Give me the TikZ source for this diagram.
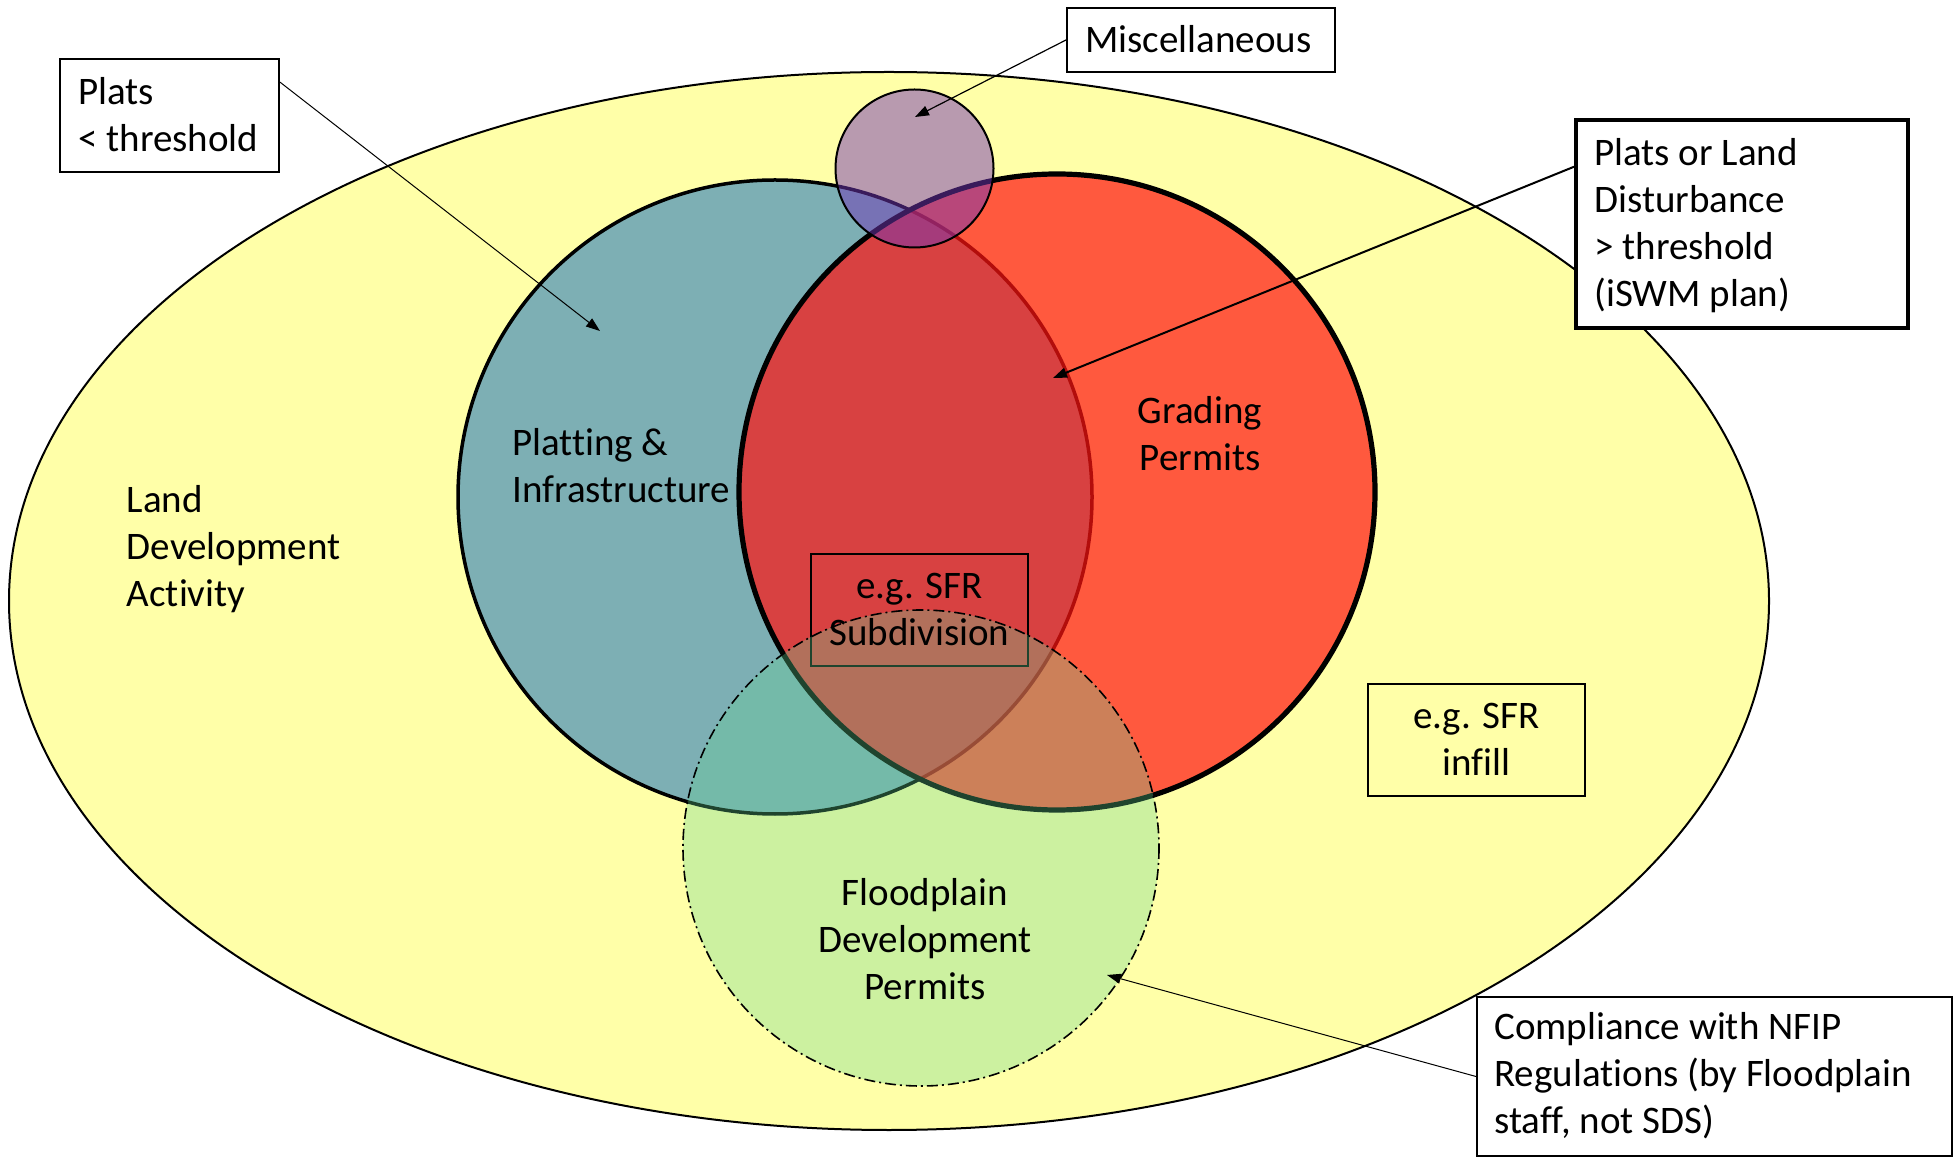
\documentclass[tikz,border=0pt]{standalone}
\usepackage{fontspec}
\setmainfont{Carlito}[Ligatures=NoCommon]
\usetikzlibrary{arrows.meta,calc}
\definecolor{ldyellow}{RGB}{255,255,168}
\definecolor{plblue}{RGB}{125,175,180}
\definecolor{grred}{RGB}{255,19,17}
\definecolor{fpgreen}{RGB}{98,212,146}
\definecolor{miscpurple}{RGB}{115,55,182}
\begin{document}
\begin{tikzpicture}[x=0.5pt,y=-0.5pt,
  lbl/.style={font=\fontsize{19.5}{23.5}\selectfont, inner sep=0pt, align=left, anchor=base west},
  lblc/.style={font=\fontsize{19.5}{23.5}\selectfont, inner sep=0pt, align=center, anchor=base},
  box/.style={draw=black, line width=1pt, inner sep=0pt},
  callout/.style={draw=black, line width=0.5pt, -{Triangle[length=7pt,width=5pt]}}]
\useasboundingbox (0,0) rectangle (1954,1159);
\fill[white] (0,0) rectangle (1954,1159);

% sets
\draw[fill=ldyellow, line width=1pt] (889,601) ellipse [x radius=880, y radius=529];
\draw[fill=plblue, line width=1.75pt] (775,497) circle [radius=317];
\draw[fill=grred, fill opacity=0.7, line width=2.6pt] (1057,492) circle [radius=318];

\node[box, minimum width=108.5pt, minimum height=56pt] (subbox) at (919.5,610) {};

\draw[fill=fpgreen, fill opacity=0.32, line width=0.8pt, dash pattern=on 5.5pt off 2pt on 1pt off 2pt] (921,848) circle [radius=238];
\draw[fill=miscpurple, fill opacity=0.5, line width=1pt] (914.5,168.5) circle [radius=79];

% labels inside sets
\node[lblc] (subtxt) at (919.5,646) {e.g. SFR\\Subdivision};
\node[lbl] (land) at (126.5,607) {Land\\Development\\Activity};
\node[lbl] (platting) at (512,503) {Platting \&\\Infrastructure};
\node[lblc] (grading) at (1200,471) {Grading\\Permits};
\node[lblc] (flood) at (925,999) {Floodplain\\Development\\Permits};

% boxes
\node[box, fill=white, minimum width=109.5pt, minimum height=56.5pt] (platsbox) at (169.5,115.5) {};
\node[lbl] (platstxt) at (78,152) {Plats\\< threshold};

\node[box, fill=white, minimum width=134pt, minimum height=32pt] (miscbox) at (1201,40) {};
\node[lbl] (misctxt) at (1085,53) {Miscellaneous};

\node[box, fill=white, line width=2pt, minimum width=166pt, minimum height=104pt] (plgbox) at (1742,224) {};
\node[lbl] (plgtxt) at (1594,307) {Plats or Land\\Disturbance\\> threshold\\(iSWM plan)};

\node[box, minimum width=108.5pt, minimum height=56pt] (infbox) at (1476.5,740) {};
\node[lblc] (inftxt) at (1476.5,776) {e.g. SFR\\infill};

\node[box, fill=white, minimum width=237.5pt, minimum height=79.5pt] (compbox) at (1714.5,1076.5) {};
\node[lbl] (comptxt) at (1494,1133) {Compliance with NFIP\\Regulations (by Floodplain\\staff, not SDS)};

% callouts
\coordinate (tipPlats) at (600,331);
\coordinate (tipMisc) at (915,117);
\coordinate (tipGrad) at (1053,378);
\coordinate (tipFlood) at (1107,975);

\draw[callout] ($(platsbox.north east)!0.21!(platsbox.south east)$) -- (tipPlats);
\draw[callout, line width=0.6pt] (miscbox.west) -- (tipMisc);
\draw[callout, line width=1pt] ($(plgbox.north west)!0.23!(plgbox.south west)$) -- (tipGrad);
\draw[callout] (compbox.west) -- (tipFlood);
\end{tikzpicture}
\end{document}
